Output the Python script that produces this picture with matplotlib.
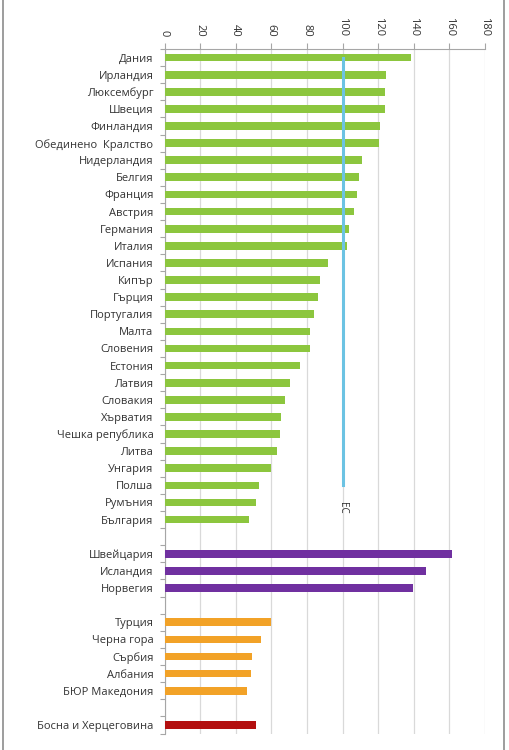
import matplotlib
matplotlib.use("Agg")
import matplotlib.pyplot as plt
from matplotlib.lines import Line2D
import numpy as np

plt.rcParams['font.family'] = ['Open Sans', 'DejaVu Sans']

eu_countries = ["Дания", "Ирландия", "Люксембург", "Швеция", "Финландия",
                "Обединено  Кралство", "Нидерландия", "Белгия", "Франция", "Австрия",
                "Германия", "Италия", "Испания", "Кипър", "Гърция", "Португалия",
                "Малта", "Словения", "Естония", "Латвия", "Словакия", "Хърватия",
                "Чешка република", "Литва", "Унгария", "Полша", "Румъния", "България"]
eu_values = [138.6, 124.4, 123.8, 124.0, 121.2, 120.6, 110.7, 109.0, 107.9, 106.4,
             103.4, 102.5, 91.6, 87.5, 86.0, 84.1, 81.5, 81.5, 76.0, 70.4, 67.8,
             65.5, 65.0, 63.4, 59.7, 53.0, 51.3, 47.3]

efta_countries = ["Швейцария", "Исландия", "Норвегия"]
efta_values = [161.3, 146.9, 139.4]

cand_countries = ["Турция", "Черна гора", "Сърбия", "Албания", "БЮР Македония"]
cand_values = [60.0, 54.1, 49.0, 48.5, 46.4]

pot_countries = ["Босна и Херцеговина"]
pot_values = [51.3]

EU_AVG = 100
EU_LABEL = "ЕС"
x_ticks = [0, 20, 40, 60, 80, 100, 120, 140, 160, 180]

groups = [(eu_countries, eu_values, "#8cc63e"),
          (efta_countries, efta_values, "#7030a0"),
          (cand_countries, cand_values, "#f2a227"),
          (pot_countries, pot_values, "#b30f0f")]

fig = plt.figure(figsize=(5.09, 7.5), dpi=100)
ax = fig.add_axes([164.5/509, 1-733.5/750, (485-164.5)/509, (733.5-49)/750])

labels = []
positions = []
pos = 0
for names, vals, col in groups:
    ys = np.arange(pos, pos + len(names))
    ax.barh(ys, vals, height=0.45, color=col, zorder=3)
    labels += names
    positions += list(ys)
    pos += len(names) + 1
n_slots = pos - 1

ax.set_ylim(n_slots - 0.5, -0.5)
ax.set_xlim(0, 180)

# EU average line
polsha_idx = eu_countries.index("Полша")
ax.plot([EU_AVG, EU_AVG], [0, polsha_idx], color="#6cc3e3", lw=2.2, zorder=4)
ax.text(EU_AVG, polsha_idx + 1.3, EU_LABEL, rotation=-90, ha="center", va="center",
        fontsize=7, color="#333333", zorder=5)

ax.set_yticks(positions)
ax.set_yticklabels(labels, fontsize=8.0, color="#333333")
ax.set_yticks(np.arange(-0.5, n_slots, 1.0), minor=True)
ax.tick_params(axis="y", which="major", length=0, pad=8)
ax.tick_params(axis="y", which="minor", length=3.5, color="#a6a6a6", width=0.8)

ax.xaxis.tick_top()
ax.set_xticks(x_ticks)
ax.set_xticklabels([str(t) for t in x_ticks], rotation=-90, fontsize=8.0, color="#333333")
ax.tick_params(axis="x", which="major", length=4, color="#a6a6a6", width=0.8, pad=5)

ax.grid(axis="x", color="#d9d9d9", lw=0.9, zorder=0)
ax.set_axisbelow(True)
for side in ["right", "bottom"]:
    ax.spines[side].set_visible(False)
for side in ["left", "top"]:
    ax.spines[side].set_color("#a6a6a6")
    ax.spines[side].set_linewidth(0.8)

# outer frame lines
fig.add_artist(Line2D([3/509, 3/509], [0, 1], color="#8c8c8c", lw=1.2, transform=fig.transFigure))
fig.add_artist(Line2D([504/509, 504/509], [0, 1], color="#8c8c8c", lw=1.2, transform=fig.transFigure))

fig.savefig("out.png", dpi=100, facecolor="white")
